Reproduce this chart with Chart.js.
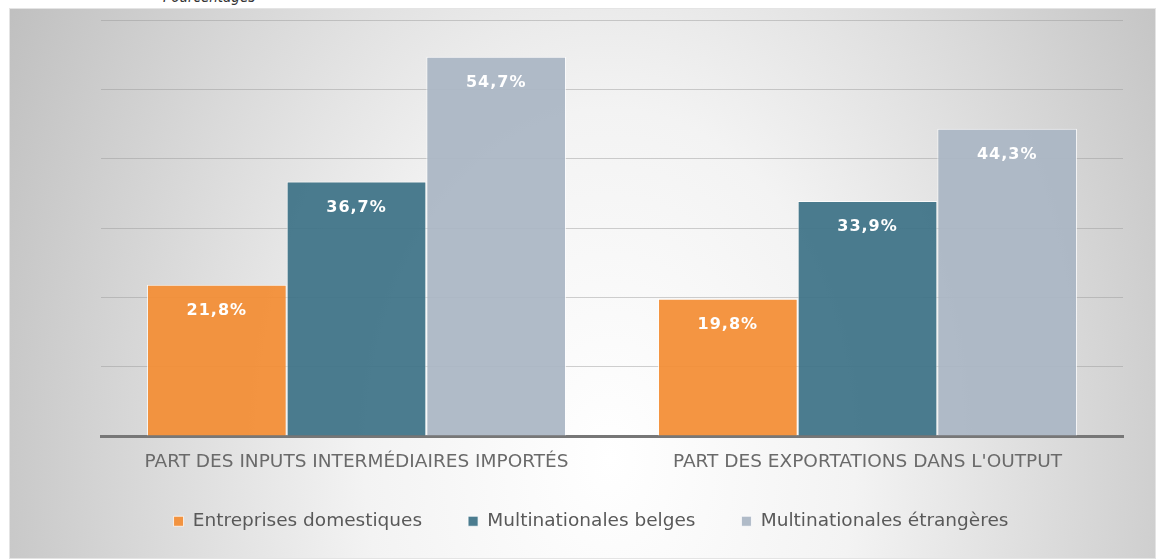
<!DOCTYPE html>
<html>
<head>
<meta charset="utf-8">
<script src="https://cdn.jsdelivr.net/npm/chart.js@4/dist/chart.umd.min.js"></script>
<style>
  html, body { margin: 0; padding: 0; background: #fff; }
  body { width: 1156px; height: 559px; position: relative; overflow: hidden; }
  .note {
    position: absolute; left: 163px; top: -12px; line-height: 17px;
    font: italic 15px "DejaVu Sans Condensed", "DejaVu Sans", sans-serif; color: #333;
  }
  .box {
    position: absolute; left: 9px; top: 8px; width: 1147px; height: 551px;
    box-sizing: border-box; border: 1px solid #e4e4e4;
    background: radial-gradient(ellipse 700px 1000px at 600px 450px, #ffffff 0%, #f3f3f3 35%, #bdbdbd 100%);
  }
  canvas { display: block; }
</style>
</head>
<body>
<div class="note">Pourcentages</div>
<div class="box"><canvas id="c" width="1145" height="549"></canvas></div>
<script>
// Data
const categories = ['PART DES INPUTS INTERMÉDIAIRES IMPORTÉS', "PART DES EXPORTATIONS DANS L'OUTPUT"];
const domestiques = [21.8, 19.8];
const belges = [36.7, 33.9];
const etrangeres = [54.7, 44.3];
const seriesNames = ['Entreprises domestiques', 'Multinationales belges', 'Multinationales étrangères'];

const fmt = v => v.toFixed(1).replace('.', ',') + '%';

// value labels inside bars, near the top
const valueLabels = {
  id: 'valueLabels',
  afterDatasetsDraw(chart) {
    const ctx = chart.ctx;
    ctx.save();
    ctx.fillStyle = '#ffffff';
    ctx.font = 'bold 16px "DejaVu Sans", sans-serif';
    ctx.textAlign = 'center';
    ctx.textBaseline = 'middle';
    if ('letterSpacing' in ctx) ctx.letterSpacing = '1px';
    chart.data.datasets.forEach((ds, i) => {
      chart.getDatasetMeta(i).data.forEach((bar, j) => {
        ctx.fillText(fmt(ds.data[j]), bar.x, bar.y + 26);
      });
    });
    ctx.restore();
  }
};

// nudge the legend: centred a bit left of the plot, items sit lower than its padding allows
const legendShift = {
  id: 'legendShift',
  afterLayout(chart) {
    const lg = chart.legend;
    if (!lg) return;
    lg.left -= 21; lg.right -= 21;
    lg.top -= 8; lg.bottom -= 8;
  }
};

new Chart(document.getElementById('c'), {
  type: 'bar',
  data: {
    labels: categories,
    datasets: [
      {label: seriesNames[0], data: domestiques, backgroundColor: 'rgba(243,141,52,0.93)'},
      {label: seriesNames[1], data: belges, backgroundColor: 'rgba(61,114,135,0.93)'},
      {label: seriesNames[2], data: etrangeres, backgroundColor: 'rgba(170,182,196,0.93)'},
    ].map(d => Object.assign(d, {
      borderColor: 'rgba(255,255,255,0.75)', borderWidth: 1,
      categoryPercentage: 0.82, barPercentage: 1
    })),
  },
  options: {
    responsive: false,
    animation: false,
    layout: {padding: {left: 91, right: 32, top: 11, bottom: 16}},
    plugins: {
      tooltip: {enabled: false},
      legend: {
        position: 'bottom',
        maxHeight: 68,
        labels: {
          color: '#595959',
          font: {family: '"DejaVu Sans", sans-serif', size: 18.5},
          boxWidth: 10, boxHeight: 10, padding: 46,
        },
      },
    },
    scales: {
      x: {
        grid: {display: false, drawTicks: false},
        border: {color: '#777777', width: 3},
        ticks: {
          color: '#6a6a6a', padding: 15,
          font: {family: '"DejaVu Sans", sans-serif', size: 18.5},
        },
        afterFit: s => { s.height = 38; },
      },
      y: {
        min: 0, max: 60,
        ticks: {display: false, stepSize: 10},
        border: {display: false},
        grid: {color: 'rgba(150,150,150,0.45)', lineWidth: 1, drawTicks: false},
      },
    },
  },
  plugins: [valueLabels, legendShift],
});
</script>
</body>
</html>
